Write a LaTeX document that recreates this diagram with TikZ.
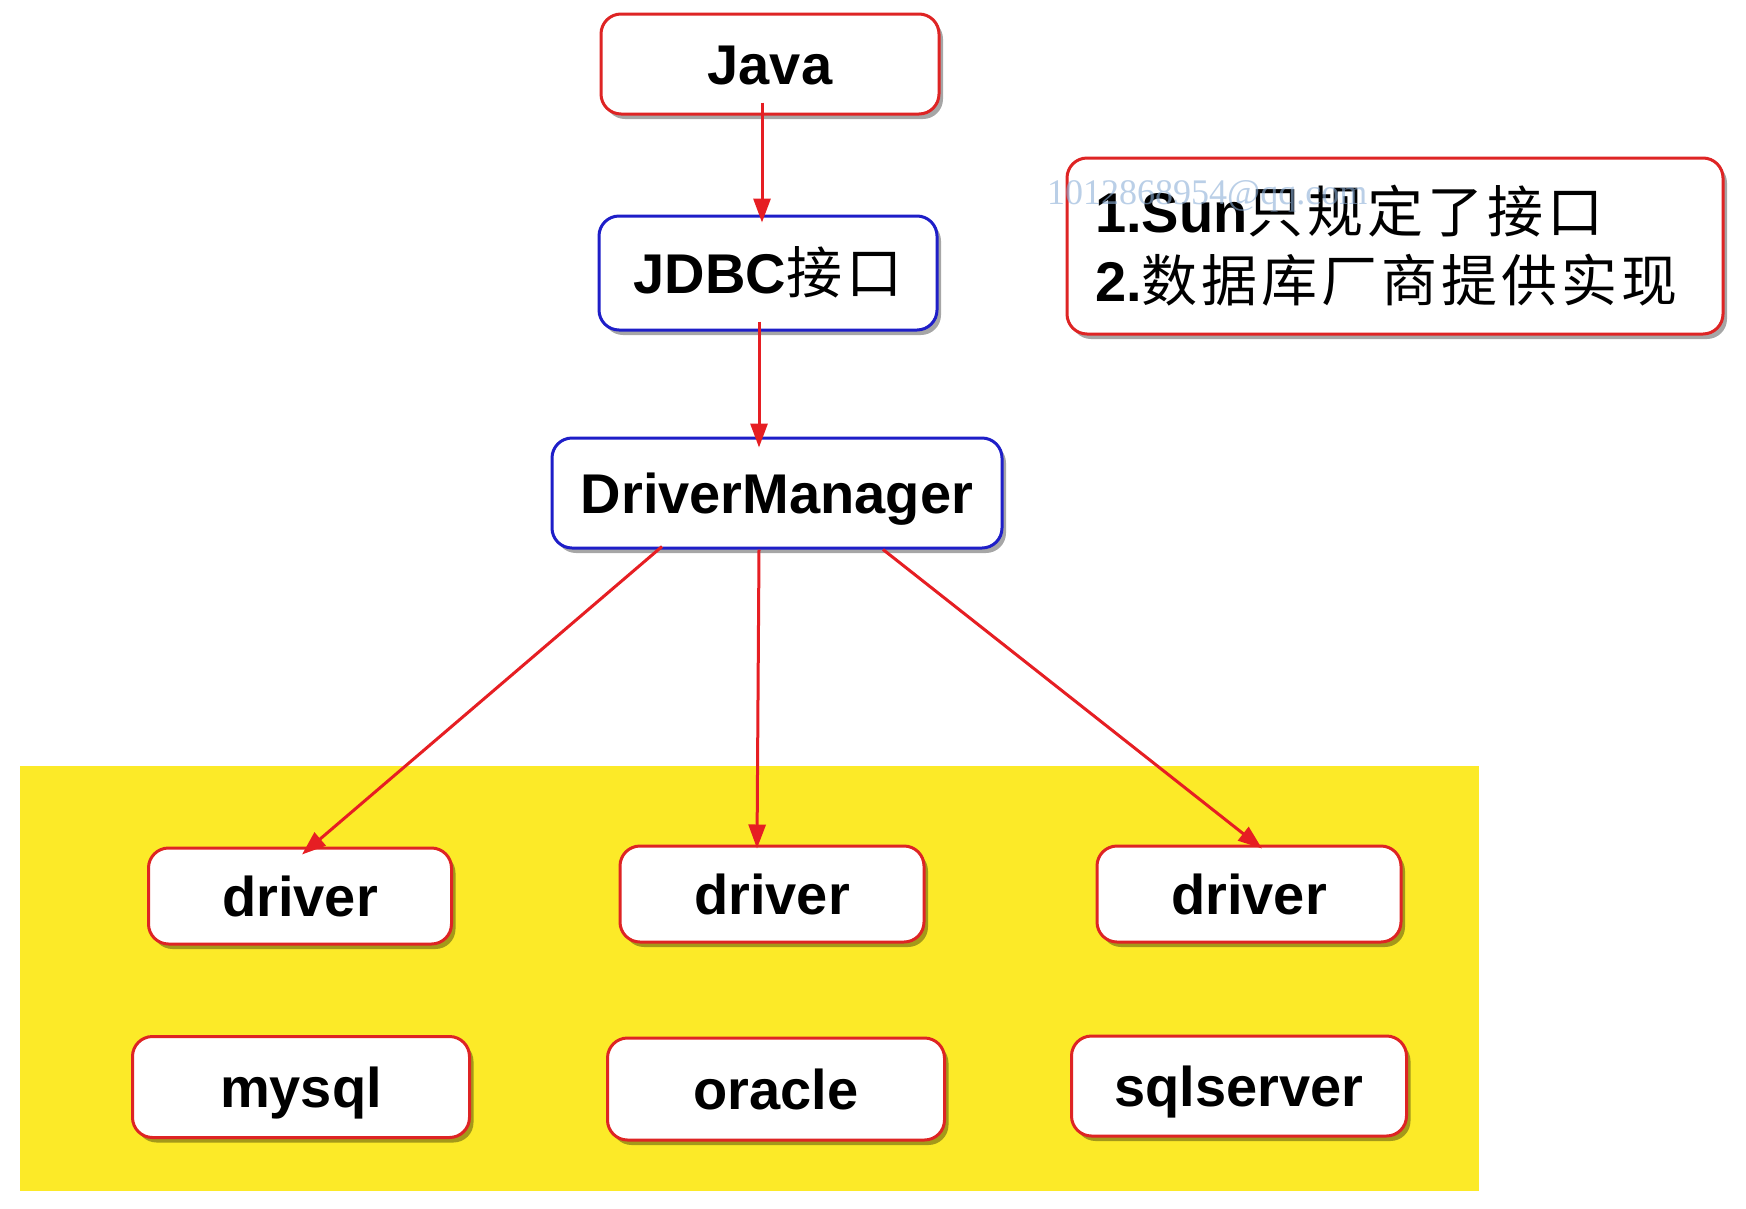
\documentclass[tikz,border=0pt]{standalone}
\usepackage{fontspec}
\setmainfont{Liberation Sans}
\newfontfamily\cjk[LetterSpace=7]{Noto Sans CJK SC}
\newfontfamily\wmfont{Liberation Serif}
\usetikzlibrary{arrows.meta,shadows,calc}
\definecolor{boxred}{RGB}{222,36,36}
\definecolor{boxblue}{RGB}{30,30,200}
\definecolor{arrred}{RGB}{230,30,35}
\definecolor{hiyellow}{RGB}{252,234,40}
\definecolor{wmblue}{RGB}{140,175,215}
\begin{document}
\begin{tikzpicture}[x=1pt,y=-1pt,
  box/.style={draw, line width=3pt, rounded corners=20pt, fill=white,
    drop shadow={shadow xshift=4pt,shadow yshift=-5pt,fill=black,opacity=0.35},
    font=\fontsize{56}{60}\selectfont\bfseries, inner sep=0pt,
    text height=40pt, text depth=0pt},
  redbox/.style={box, draw=boxred},
  bluebox/.style={box, draw=boxblue},
  arr/.style={draw=arrred, line width=3pt, -{Triangle[length=24pt,width=17pt]}}]
\useasboundingbox[fill=white] (0,0) rectangle (1746,1208);
% yellow band
\fill[hiyellow] (20,766) rectangle (1479,1191);
% nodes
\node[redbox, minimum width=338pt, minimum height=100pt] (java) at (770,64) {Java};
\node[bluebox, minimum width=338pt, minimum height=114pt] (jdbc) at (768,273) {JDBC{\mdseries\cjk 接口}};
\node[bluebox, minimum width=450pt, minimum height=110pt] (dm) at (777,493) {DriverManager};
\node[redbox, minimum width=656pt, minimum height=176pt, text width=600pt, align=left,
  inner xsep=28pt, text height=, text depth=, font=\fontsize{56}{69}\selectfont] (note) at (1395,246)
  {{\bfseries 1.Sun}{\cjk 只规定了接口}\\{\bfseries 2.}{\cjk 数据库厂商提供实现}};
\node[redbox, minimum width=303pt, minimum height=96pt] (d1) at (300,896) {driver};
\node[redbox, minimum width=304pt, minimum height=96pt] (d2) at (772,894) {driver};
\node[redbox, minimum width=304pt, minimum height=96pt] (d3) at (1249,894) {driver};
\node[redbox, minimum width=337pt, minimum height=101pt] (mysql) at (301,1087) {mysql};
\node[redbox, minimum width=337pt, minimum height=102pt] (oracle) at (776,1089) {oracle};
\node[redbox, minimum width=335pt, minimum height=100pt] (sqlserver) at (1239,1086) {sqlserver};
% connectors
\draw[arr] ($(java.south)+(-8,-13)$) -- ($(jdbc.north)+(-6,8)$);
\draw[arr] ($(jdbc.south)+(-9,-10)$) -- ($(dm.north)+(-18,11)$);
\draw[arr] ($(dm.south)+(-115,-3)$) -- ($(d1.north)+(2,8)$);
\draw[arr] ($(dm.south)+(-18,0)$) -- ($(d2.north)+(-15,4)$);
\draw[arr] ($(dm.south)+(106,0)$) -- ($(d3.north)+(13,4)$);
% watermark
\node[anchor=base west, inner sep=0pt, text=wmblue, opacity=0.6,
  font=\wmfont\fontsize{36}{40}\selectfont] (wm) at (1047,204) {1012868954@qq.com};
\end{tikzpicture}
\end{document}
